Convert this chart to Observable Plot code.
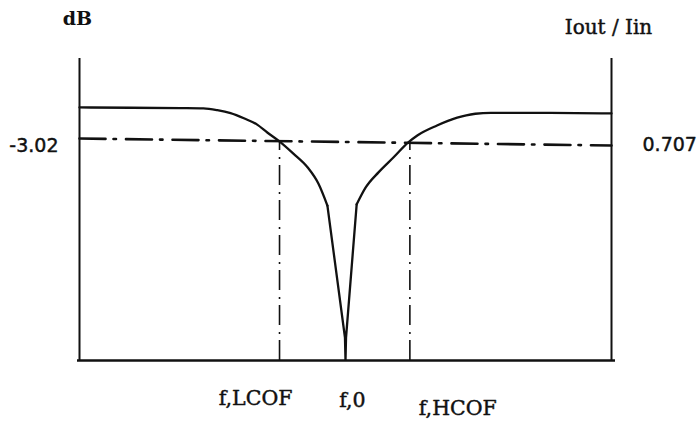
<!DOCTYPE html>
<html>
<head>
<meta charset="utf-8">
<script src="https://cdn.jsdelivr.net/npm/d3@7"></script>
<script src="https://cdn.jsdelivr.net/npm/@observablehq/plot@0.6"></script>
<style>
  html, body { margin: 0; padding: 0; background: #fff; }
  #chart svg { display: block; background: #fff; }
</style>
</head>
<body>
<div id="chart"></div>
<script>
// Notch-filter response (relative frequency 0–100, relative level 0–100)
const freq  = [0, 9.6, 19.0, 23.3, 25.9, 28.4, 30.9, 33.4, 35.3, 37.4, 40.2, 42.9, 44.9, 46.6, 49.9, 50.0, 50.1, 52.1, 53.8, 56.2, 59.0, 61.8, 63.5, 67.2, 71.0, 72.7, 74.4, 77.3, 88.5, 100];
const level = [83.8, 83.7, 83.6, 83.5, 82.9, 81.9, 80.2, 78.1, 75.5, 72.8, 68.5, 63.9, 58.6, 51.3, 7.6, 0, 7.6, 51.7, 57.3, 62.3, 67.2, 72.2, 74.5, 77.8, 80.4, 81.2, 81.7, 82.0, 82.0, 81.8];

// the notch's straight flanks lie between these two frequencies
const notchEdges = [46.6, 52.1];

// -3 dB (0.707) reference line, read at left and right ends
const refFreq  = [0, 100];
const refLevel = [73.5, 71.2];

// cut-off frequencies (dash-dot verticals)
const cutoffFreq  = [37.6, 62.1];
const cutoffLevel = 72.5;

// labels
const leftTickLabel  = "-3.02";
const rightTickLabel = "0.707";
const freqLabels   = ["f,LCOF", "f,0", "f,HCOF"];
const freqLabelX   = [33.1, 51.3, 71.1];
const freqLabelY   = [-12.6, -13.2, -15.9];
const leftTitle  = "dB";
const rightTitle = "Iout / Iin";

const curve = freq.map((f, i) => ({f, v: level[i]}));
const leftPart  = curve.filter(d => d.f <= notchEdges[0]);
const notch     = curve.filter(d => d.f >= notchEdges[0] && d.f <= notchEdges[1]);
const rightPart = curve.filter(d => d.f >= notchEdges[1]);
const ref = refFreq.map((f, i) => ({f, v: refLevel[i]}));
const fl = freqLabels.map((t, i) => ({t, f: freqLabelX[i], v: freqLabelY[i]}));

const ink = "#111";
const serif = "DejaVu Serif, serif";
const sans = "DejaVu Sans, sans-serif";
const thick = {stroke: ink, strokeWidth: 0.45};

const chart = Plot.plot({
  width: 697,
  height: 421,
  marginLeft: 79,
  marginRight: 86,
  marginTop: 58,
  marginBottom: 61,
  x: {domain: [0, 100], axis: null},
  y: {domain: [0, 100], axis: null},
  style: {background: "#fff", color: ink},
  marks: [
    // axes frame
    Plot.ruleX([0, 100], {stroke: ink, strokeWidth: 2}),
    Plot.ruleY([0], {stroke: ink, strokeWidth: 2.5, insetLeft: -2, insetRight: -4}),
    // reference line
    Plot.line(ref, {x: "f", y: "v", stroke: ink, strokeWidth: 2.6, strokeDasharray: "26,8,2.5,10"}),
    // cut-off verticals
    Plot.ruleX(cutoffFreq, {y1: 0, y2: cutoffLevel, stroke: ink, strokeWidth: 1.6, strokeDasharray: "20,6,2,7"}),
    // response
    Plot.line(leftPart, {x: "f", y: "v", stroke: ink, strokeWidth: 2.3, curve: "monotone-x"}),
    Plot.line(notch, {x: "f", y: "v", stroke: ink, strokeWidth: 2.3, strokeLinejoin: "miter"}),
    Plot.line(rightPart, {x: "f", y: "v", stroke: ink, strokeWidth: 2.3, curve: "monotone-x"}),
    // tick labels
    Plot.text([leftTickLabel], {x: 0, y: refLevel[0], text: d => d, textAnchor: "end", dx: -21, dy: 7, fontSize: 19, fontFamily: sans, fill: ink, ...thick}),
    Plot.text([rightTickLabel], {x: 100, y: refLevel[1], text: d => d, textAnchor: "start", dx: 31, dy: -1, fontSize: 19, fontFamily: sans, fill: ink, ...thick}),
    Plot.text(fl, {x: "f", y: "v", text: "t", fontSize: 20.5, fontFamily: serif, fill: ink, ...thick}),
    // titles
    Plot.text([leftTitle], {x: 0, y: 100, text: d => d, dy: -40, dx: -2, fontSize: 19, fontFamily: serif, fontWeight: "bold", fill: ink}),
    Plot.text([rightTitle], {x: 100, y: 100, text: d => d, dy: -31, dx: -3, fontSize: 20, fontFamily: serif, fill: ink, ...thick})
  ]
});
document.getElementById("chart").appendChild(chart);
</script>
</body>
</html>
